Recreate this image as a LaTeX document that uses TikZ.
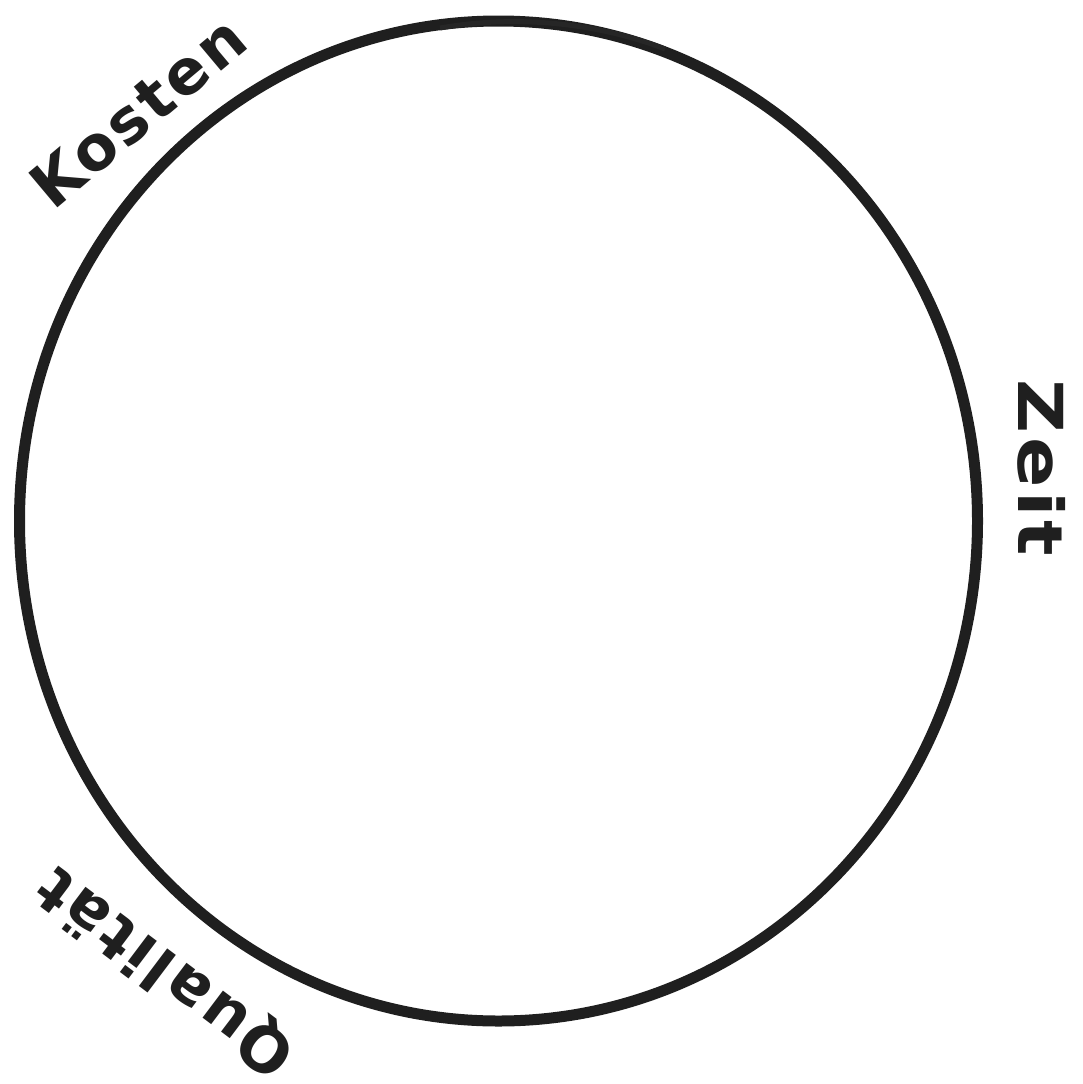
\documentclass[tikz,border=0pt]{standalone}
\usepackage{fontspec}
\newfontfamily\hand[LetterSpace=5]{DejaVu Sans}
\begin{document}
\begin{tikzpicture}[x=1pt,y=1pt,
  ring/.style={line width=11pt, draw=black!88},
  lbl/.style={font=\hand\bfseries\fontsize{62}{66}\selectfont, text=black!88, inner sep=0pt}]
\useasboundingbox (0,0) rectangle (1082,-1084);
\draw[ring] (498.5,-521) ellipse [x radius=479, y radius=500];
\draw[line width=5pt, draw=black!85] (440,-28) .. controls (520,-14) and (600,-24) .. (665,-49);
\node[lbl, rotate=40] (kosten) at (138,-112) {Kosten};
\node[lbl, rotate=-90, xscale=1.2] (zeit) at (1042,-468) {Zeit};
\node[lbl, rotate=143] (qual) at (166,-972) {Qualität};
\end{tikzpicture}
\end{document}
